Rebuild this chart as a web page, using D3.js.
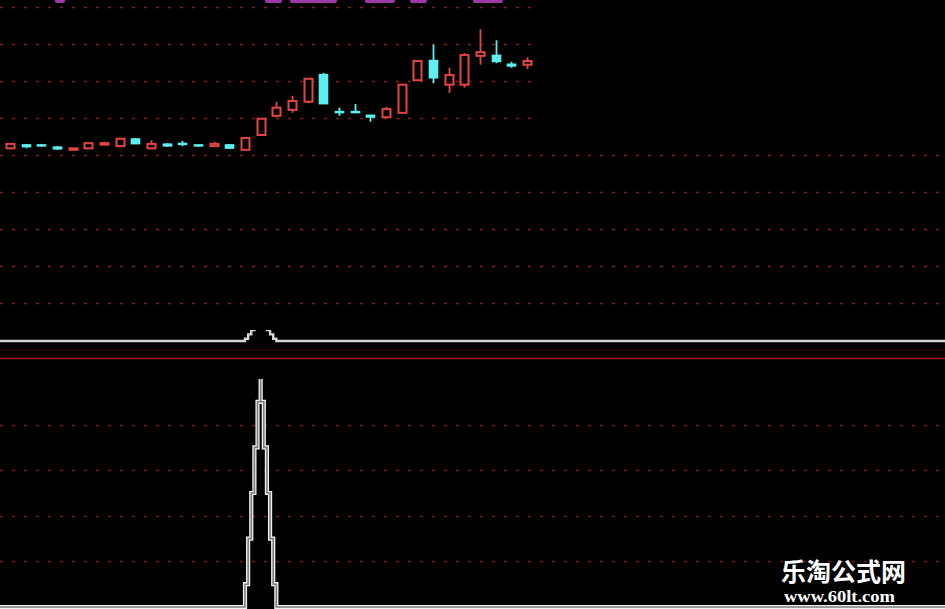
<!DOCTYPE html>
<html><head><meta charset="utf-8">
<script src="https://cdn.jsdelivr.net/npm/d3@7/dist/d3.min.js"></script>
<style>html,body{margin:0;padding:0;background:#000;overflow:hidden}</style>
</head><body>
<svg id="c" width="945" height="609"></svg>
<script>
// ---- Data ----
const opens  = [10.09,10.14,10.14,10.11,10.07,10.09,10.15,10.12,10.22,10.09,10.15,10.16,10.14,10.12,10.14,10.07,10.27,10.53,10.61,10.72,11.09,10.59,10.59,10.54,10.51,10.57,11.01,11.28,10.95,10.95,11.34,11.35,11.23,11.22];
const highs  = [10.16,10.15,10.15,10.12,10.09,10.16,10.18,10.22,10.23,10.20,10.16,10.19,10.14,10.18,10.15,10.24,10.50,10.72,10.80,11.04,11.11,10.64,10.69,10.54,10.65,10.96,11.28,11.49,11.18,11.38,11.70,11.55,11.26,11.32];
const lows   = [10.08,10.09,10.11,10.07,10.07,10.09,10.14,10.12,10.15,10.09,10.11,10.12,10.11,10.11,10.08,10.07,10.27,10.51,10.57,10.70,10.69,10.53,10.57,10.45,10.50,10.57,11.01,10.97,10.84,10.91,11.22,11.24,11.18,11.16];
const closes = [10.15,10.11,10.12,10.08,10.09,10.16,10.16,10.22,10.15,10.15,10.12,10.14,10.12,10.15,10.09,10.23,10.49,10.64,10.73,11.03,10.69,10.58,10.57,10.51,10.62,10.95,11.27,11.04,11.08,11.35,11.39,11.26,11.20,11.27];
const priceGrid = [12, 11.5, 11, 10.5, 10, 9.5, 9, 8.5, 8];
// magenta marks peeking at the top edge, as [startBar, endBar]
const magentaStart = [2.87, 16.27, 17.87, 22.65, 25.53, 29.55];
const magentaEnd   = [3.51, 17.36, 20.87, 24.57, 26.61, 31.46];
// indicator series, bars -1 .. 60
const midLine = [0,0,0,0,0,0,0,0,0,0, 0,0,0,0,0,0,0,1,0,0, 0,0,0,0,0,0,0,0,0,0, 0,0,0,0,0,0,0,0,0,0, 0,0,0,0,0,0,0,0,0,0, 0,0,0,0,0,0,0,0,0,0, 0,0];
const lowLine = [0,0,0,0,0,0,0,0,0,0, 0,0,0,0,0,0,0,5,0,0, 0,0,0,0,0,0,0,0,0,0, 0,0,0,0,0,0,0,0,0,0, 0,0,0,0,0,0,0,0,0,0, 0,0,0,0,0,0,0,0,0,0, 0,0];
const lowGrid = [1, 2, 3, 4];

// ---- Drawing ----
const W = 945, H = 609;
const svg = d3.select('#c');
svg.append('rect').attr('width', W).attr('height', H).attr('fill', '#000');

const x  = d3.scaleLinear().domain([0, 33]).range([10, 527]);
const yP = d3.scaleLinear().domain([8, 12]).range([303, 7]);
const yM = d3.scaleLinear().domain([0, 1]).range([341, 319]);
const yB = d3.scaleLinear().domain([0, 5]).range([607, 379]);

const RED = '#e44444', CYAN = '#5cf0f0', GRID = '#841e1e';

// price grid
svg.append('g').selectAll('line').data(priceGrid).join('line')
  .attr('x1', 0).attr('x2', W)
  .attr('y1', d => Math.round(yP(d)) + 0.5).attr('y2', d => Math.round(yP(d)) + 0.5)
  .attr('stroke', GRID).attr('stroke-width', 1.6).attr('stroke-dasharray', '3,9');

// blank area at top right
svg.append('rect').attr('x', 540).attr('y', 0).attr('width', W - 540).attr('height', 150).attr('fill', '#000');

// magenta marks at the top edge
svg.append('g').selectAll('rect').data(magentaStart).join('rect')
  .attr('x', (d, i) => x(d)).attr('width', (d, i) => x(magentaEnd[i]) - x(d))
  .attr('y', -1).attr('height', 4).attr('rx', 2)
  .attr('fill', '#9c38aa');

// candles
const candles = svg.append('g');
opens.forEach((o, i) => {
  const c = closes[i], up = c >= o;
  const col = up ? RED : CYAN;
  const cx = Math.round(x(i)) + 0.5;
  candles.append('line').attr('x1', cx).attr('x2', cx)
    .attr('y1', yP(highs[i])).attr('y2', yP(lows[i]))
    .attr('stroke', col).attr('stroke-width', 1.8);
  const top = yP(Math.max(o, c)), bot = yP(Math.min(o, c));
  const h = Math.max(1.5, bot - top);
  if (up) {
    candles.append('rect').attr('x', cx - 4).attr('width', 8)
      .attr('y', top).attr('height', h)
      .attr('fill', '#000').attr('stroke', col).attr('stroke-width', 2);
  } else {
    candles.append('rect').attr('x', cx - 4.8).attr('width', 9.6)
      .attr('y', top - 0.5).attr('height', h + 1).attr('fill', col);
  }
});

// pixel-stair rendering of a polyline (mimics the low-resolution screen capture):
// verticals at column centres, spanning the line's extent inside each column
function stairs(pts, cw, origin) {
  const interp = xx => {
    for (let k = 0; k < pts.length - 1; k++) {
      const a = pts[k], b = pts[k + 1];
      if (xx >= a[0] && xx <= b[0]) return a[1] + (b[1] - a[1]) * (xx - a[0]) / (b[0] - a[0]);
    }
    return xx < pts[0][0] ? pts[0][1] : pts[pts.length - 1][1];
  };
  let d = '';
  const start = origin + Math.floor((pts[0][0] - origin) / cw) * cw;
  const end = pts[pts.length - 1][0];
  let first = true;
  for (let b0 = start; b0 < end; b0 += cw) {
    const b1 = b0 + cw, m = b0 + cw / 2;
    const ys = [interp(b0)];
    pts.forEach(p => { if (p[0] > b0 && p[0] < b1) ys.push(p[1]); });
    ys.push(interp(b1));
    if (first) { d += `M${b0},${ys[0]}H${m}`; first = false; }
    else d += `H${m}`;
    ys.forEach(yy => { d += `V${yy}`; });
  }
  d += `H${end}`;
  return d;
}
const cell = (x(1) - x(0)) / 5;          // screen-pixel size of the captured image
const cellOrigin = x(0) - cell / 2;

// middle panel
svg.append('clipPath').attr('id', 'midClip')
  .append('rect').attr('x', 0).attr('y', 330).attr('width', W).attr('height', 28);
const midPts = midLine.map((v, k) => [x(k - 1), yM(v)]);
svg.append('path').attr('d', stairs(midPts, cell, cellOrigin)).attr('clip-path', 'url(#midClip)')
  .attr('fill', 'none').attr('stroke', '#d6d6d6').attr('stroke-width', 2.4);

// separators
svg.append('line').attr('x1', 0).attr('x2', W).attr('y1', 350).attr('y2', 350)
  .attr('stroke', '#2c0707').attr('stroke-width', 1.5);
svg.append('line').attr('x1', 0).attr('x2', W).attr('y1', 358.5).attr('y2', 358.5)
  .attr('stroke', '#a01c1c').attr('stroke-width', 1.6);

// bottom panel grid
svg.append('g').selectAll('line').data(lowGrid).join('line')
  .attr('x1', 0).attr('x2', W)
  .attr('y1', d => Math.round(yB(d)) + 0.5).attr('y2', d => Math.round(yB(d)) + 0.5)
  .attr('stroke', '#701a1a').attr('stroke-width', 1.5).attr('stroke-dasharray', '3,9');

// bottom indicator
const lowPts = lowLine.map((v, k) => [x(k - 1), yB(v)]);
const lowD = stairs(lowPts, cell, cellOrigin);
svg.append('path').attr('d', lowD).attr('fill', 'none')
  .attr('stroke', '#f0f0f0').attr('stroke-width', 4.2).attr('stroke-linejoin', 'miter');
svg.append('path').attr('d', lowD).attr('fill', 'none')
  .attr('stroke', '#7c7c7c').attr('stroke-width', 1.6);

// watermark
svg.append('text').attr('x', 781).attr('y', 581)
  .attr('font-family', '"Noto Sans CJK SC", sans-serif').attr('font-weight', 'bold')
  .attr('font-size', 25).attr('fill', '#ffffff').text('乐淘公式网');
svg.append('text').attr('x', 784).attr('y', 602)
  .attr('font-family', '"Liberation Serif", serif').attr('font-weight', 'bold')
  .attr('font-size', 17).attr('textLength', 111).attr('lengthAdjust', 'spacingAndGlyphs')
  .attr('fill', '#ffffff').text('www.60lt.com');
</script>
</body></html>
